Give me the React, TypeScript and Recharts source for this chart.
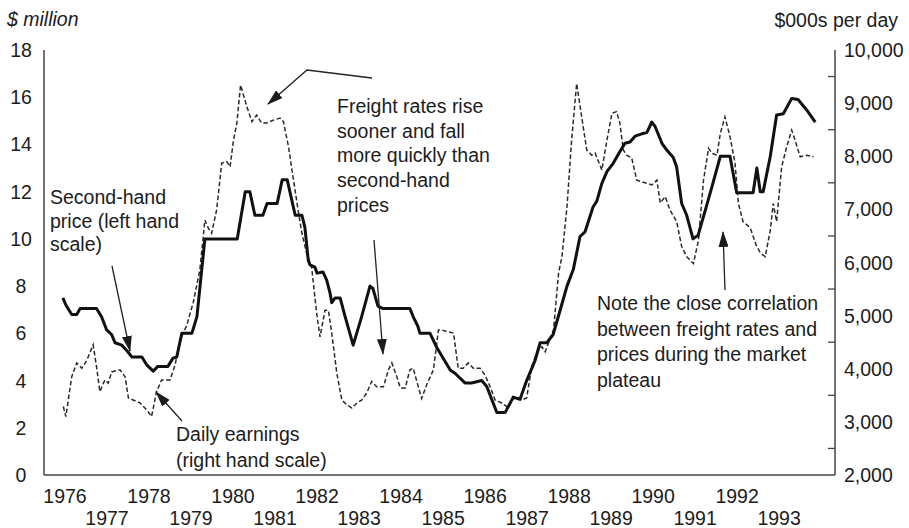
import React from "react";
import { LineChart, Line, XAxis, YAxis } from "recharts";

// second-hand price, $ million (left scale)
const priceYears = [
  1975.95, 1976.02, 1976.16, 1976.28, 1976.36, 1976.75, 1976.87, 1976.99, 1977.11, 1977.19,
  1977.35, 1977.48, 1977.59, 1977.83, 1977.95, 1978.1, 1978.21, 1978.45, 1978.57, 1978.66,
  1978.78, 1979.02, 1979.14, 1979.33, 1980.1, 1980.29, 1980.4, 1980.52, 1980.71, 1980.81,
  1981.05, 1981.17, 1981.29, 1981.48, 1981.64, 1981.71, 1981.79, 1981.83, 1981.95, 1982.0,
  1982.14, 1982.23, 1982.31, 1982.35, 1982.43, 1982.55, 1982.67, 1982.86, 1983.06, 1983.26,
  1983.33, 1983.45, 1983.57, 1984.21, 1984.29, 1984.4, 1984.45, 1984.69, 1984.85, 1985.17,
  1985.29, 1985.52, 1985.68, 1985.92, 1986.04, 1986.16, 1986.28, 1986.48, 1986.67, 1986.83,
  1986.99, 1987.19, 1987.31, 1987.47, 1987.62, 1987.79, 1987.95, 1988.1, 1988.26, 1988.38,
  1988.57, 1988.66, 1988.78, 1988.9, 1989.05, 1989.21, 1989.33, 1989.45, 1989.57, 1989.73,
  1989.85, 1989.97, 1990.05, 1990.21, 1990.33, 1990.48, 1990.56, 1990.68, 1990.8, 1990.95,
  1991.07, 1991.24, 1991.4, 1991.6, 1991.83, 1991.99, 1992.38, 1992.47, 1992.55, 1992.62,
  1992.79, 1992.94, 1993.1, 1993.3, 1993.45, 1993.66, 1993.86,
];
const priceValues = [
  7.5, 7.2, 6.8, 6.8, 7.05, 7.05, 6.7, 6.15, 5.95, 5.6,
  5.5, 5.25, 5.0, 5.0, 4.65, 4.4, 4.6, 4.6, 4.95, 5.0,
  6.0, 6.0, 6.7, 10.0, 10.0, 12.0, 12.0, 11.0, 11.0, 11.5,
  11.5, 12.5, 12.5, 11.0, 11.0, 10.5, 9.1, 8.9, 8.8, 8.55,
  8.6, 8.25, 7.7, 7.3, 7.5, 7.5, 6.7, 5.5, 6.7, 8.0,
  7.9, 7.15, 7.05, 7.05, 6.7, 6.3, 6.0, 6.0, 5.4, 4.45,
  4.3, 3.9, 3.9, 4.0, 3.75, 3.2, 2.65, 2.65, 3.3, 3.2,
  4.0, 4.85, 5.6, 5.6, 5.95, 7.0, 8.0, 8.7, 10.1, 10.3,
  11.35, 11.6, 12.35, 12.85, 13.2, 13.7, 14.05, 14.1, 14.35, 14.45,
  14.5, 14.95, 14.75, 14.05, 13.75, 13.45, 13.05, 11.5, 11.0, 10.0,
  10.15, 11.2, 12.2, 13.5, 13.5, 11.95, 11.95, 13.0, 12.0, 12.0,
  13.5, 15.25, 15.3, 15.95, 15.9, 15.45, 14.95,
];

// daily earnings, $ per day (right scale)
const earningsYears = [
  1975.96, 1976.02, 1976.16, 1976.28, 1976.4, 1976.52, 1976.67, 1976.75, 1976.83, 1976.95,
  1977.03, 1977.11, 1977.31, 1977.43, 1977.51, 1977.79, 1977.95, 1978.06, 1978.18, 1978.3,
  1978.5, 1978.62, 1978.74, 1978.9, 1979.05, 1979.21, 1979.33, 1979.41, 1979.49, 1979.61,
  1979.73, 1979.85, 1979.93, 1980.01, 1980.09, 1980.18, 1980.33, 1980.45, 1980.56, 1980.68,
  1980.8, 1980.96, 1981.12, 1981.2, 1981.32, 1981.44, 1981.56, 1981.64, 1981.75, 1981.87,
  1981.99, 1982.07, 1982.19, 1982.27, 1982.35, 1982.47, 1982.59, 1982.71, 1982.83, 1982.95,
  1983.06, 1983.18, 1983.3, 1983.42, 1983.58, 1983.7, 1983.78, 1983.9, 1983.98, 1984.1,
  1984.21, 1984.29, 1984.41, 1984.49, 1984.61, 1984.77, 1984.89, 1984.97, 1985.09, 1985.25,
  1985.36, 1985.48, 1985.6, 1985.72, 1985.88, 1986.0, 1986.12, 1986.24, 1986.4, 1986.56,
  1986.64, 1986.75, 1986.87, 1986.99, 1987.11, 1987.23, 1987.35, 1987.43, 1987.55, 1987.63,
  1987.75, 1987.83, 1987.95, 1988.06, 1988.18, 1988.3, 1988.42, 1988.54, 1988.62, 1988.78,
  1988.9, 1989.02, 1989.13, 1989.21, 1989.29, 1989.37, 1989.49, 1989.61, 1989.81, 1989.97,
  1990.09, 1990.17, 1990.29, 1990.4, 1990.56, 1990.68, 1990.8, 1990.96, 1991.08, 1991.2,
  1991.32, 1991.4, 1991.52, 1991.6, 1991.71, 1991.83, 1991.95, 1992.03, 1992.14, 1992.29,
  1992.33, 1992.45, 1992.56, 1992.67, 1992.79, 1992.86, 1992.94, 1993.06, 1993.18, 1993.3,
  1993.38, 1993.5, 1993.66, 1993.82,
];
const earningsValues = [
  3290, 3100, 3850, 4110, 4010, 4160, 4450, 4040, 3570, 3790,
  3730, 3940, 3980, 3850, 3450, 3355, 3220, 3100, 3570, 3790,
  3790, 4070, 4540, 4820, 5240, 5860, 6800, 6650, 6550, 6990,
  7870, 7900, 7800, 8300, 8620, 9340, 8930, 8650, 8775, 8625,
  8625, 8680, 8720, 8650, 8180, 7550, 6930, 6550, 6180, 5920,
  5050, 4600, 5100, 5100, 4670, 3920, 3410, 3320, 3260, 3355,
  3410, 3540, 3760, 3660, 3660, 3980, 4110, 3850, 3640, 3640,
  3980, 4010, 3660, 3440, 3700, 3980, 4730, 4730, 4700, 4670,
  4010, 4010, 4110, 4010, 4010, 3880, 3660, 3410, 3355, 3260,
  3410, 3470, 3410, 3450, 4040, 4300, 4415, 4320, 4570, 4730,
  5800, 6110, 7050, 8300, 9370, 8740, 8120, 8020, 8060, 7740,
  8300, 8810, 8840, 8625, 8120, 8020, 7970, 7550, 7500, 7460,
  7550, 7120, 7240, 6990, 6770, 6300, 6110, 5980, 6420, 7550,
  8150, 8055, 8020, 8430, 8740, 8370, 7870, 7110, 6770, 6670,
  6610, 6330, 6170, 6110, 6610, 7110, 6770, 7800, 8180, 8490,
  8300, 7990, 8020, 7990,
];

const yearTicks = [
  1976, 1977, 1978, 1979, 1980, 1981, 1982, 1983, 1984, 1985,
  1986, 1987, 1988, 1989, 1990, 1991, 1992, 1993,
];
const leftTicks = [0, 2, 4, 6, 8, 10, 12, 14, 16, 18];
const rightTicks = [
  2000, 2500, 3000, 3500, 4000, 4500, 5000, 5500, 6000,
  6500, 7000, 7500, 8000, 8500, 9000, 9500, 10000,
];

const priceData = priceYears.map((t, i) => ({ t, price: priceValues[i] }));
const earningsData = earningsYears.map((t, i) => ({ t, earnings: earningsValues[i] }));

const FONT = "'Liberation Sans', Arial, Helvetica, sans-serif";
const INK = "#1c1c1c";
const fs = 19.5;

const YearTick = (props: any) => {
  const { x, y, payload } = props;
  const even = payload.value % 2 === 0;
  return (
    <text x={x} y={y + (even ? 28 : 50)} textAnchor="middle" fontSize={fs} fill={INK} fontFamily={FONT}>
      {payload.value}
    </text>
  );
};

const LeftTick = (props: any) => {
  const { x, y, payload } = props;
  return (
    <text x={x - 23} y={y + 7} textAnchor="middle" fontSize={fs} fill={INK} fontFamily={FONT}>
      {payload.value}
    </text>
  );
};

const RightTick = (props: any) => {
  const { x, y, payload } = props;
  if (payload.value % 1000 !== 0) {
    return <line x1={x} x2={x - 7} y1={y} y2={y} stroke="#444" strokeWidth={1.3} />;
  }
  return (
    <text x={x + 9} y={y + 7} textAnchor="start" fontSize={fs} fill={INK} fontFamily={FONT}>
      {payload.value.toLocaleString("en-US")}
    </text>
  );
};

const Notes = () => (
  <svg
    width={909}
    height={528}
    style={{ position: "absolute", left: 0, top: 0, pointerEvents: "none" }}
    fontFamily={FONT}
    fontSize={fs}
    fill={INK}
  >
    <defs>
      <marker id="head" markerUnits="userSpaceOnUse" markerWidth={16} markerHeight={10} refX={15} refY={5} orient="auto">
        <path d="M0,0 L16,5 L0,10 Z" fill="#1c1c1c" />
      </marker>
    </defs>
    <text x={7} y={26} fontStyle="italic">$ million</text>
    <text x={898} y={27} textAnchor="end">$000s per day</text>

    <text x={50} y={204}>Second-hand</text>
    <text x={50} y={228}>price (left hand</text>
    <text x={50} y={251}>scale)</text>
    <line x1={112} y1={266} x2={130} y2={351} stroke="#222" strokeWidth={1.3} markerEnd="url(#head)" />

    <text x={176} y={441}>Daily earnings</text>
    <text x={176} y={467}>(right hand scale)</text>
    <line x1={182} y1={421} x2={156} y2={392} stroke="#222" strokeWidth={1.3} markerEnd="url(#head)" />

    <text x={337} y={113}>Freight rates rise</text>
    <text x={337} y={138}>sooner and fall</text>
    <text x={337} y={162}>more quickly than</text>
    <text x={337} y={187}>second-hand</text>
    <text x={337} y={212}>prices</text>
    <polyline points="372,78 307,70 268,104" fill="none" stroke="#222" strokeWidth={1.3} markerEnd="url(#head)" />
    <line x1={374} y1={240} x2={383} y2={354} stroke="#222" strokeWidth={1.3} markerEnd="url(#head)" />

    <text x={597} y={310}>Note the close correlation</text>
    <text x={597} y={336}>between freight rates and</text>
    <text x={597} y={361}>prices during the market</text>
    <text x={597} y={387}>plateau</text>
    <line x1={725} y1={290} x2={723} y2={232} stroke="#222" strokeWidth={1.3} markerEnd="url(#head)" />
  </svg>
);

export default function App() {
  return (
    <div style={{ position: "absolute", left: 0, top: 0, width: 909, height: 528, background: "#fff" }}>
      <LineChart width={909} height={528} margin={{ top: 50, right: 0, bottom: 0, left: 0 }}>
        <XAxis
          dataKey="t"
          type="number"
          domain={[1975.5, 1994.33]}
          ticks={yearTicks}
          allowDataOverflow
          height={53}
          tickSize={0}
          tickMargin={0}
          tickLine={false}
          axisLine={{ stroke: "#444", strokeWidth: 1.5 }}
          tick={<YearTick />}
          interval={0}
        />
        <YAxis
          yAxisId="left"
          orientation="left"
          domain={[0, 18]}
          ticks={leftTicks}
          width={44}
          tickSize={0}
          tickMargin={0}
          tickLine={false}
          axisLine={{ stroke: "#444", strokeWidth: 1.5 }}
          tick={<LeftTick />}
          interval={0}
        />
        <YAxis
          yAxisId="right"
          orientation="right"
          domain={[2000, 10000]}
          ticks={rightTicks}
          width={74}
          tickSize={0}
          tickMargin={0}
          tickLine={false}
          axisLine={{ stroke: "#444", strokeWidth: 1.5 }}
          tick={<RightTick />}
          interval={0}
        />
        <Line
          yAxisId="right"
          data={earningsData}
          dataKey="earnings"
          type="linear"
          stroke="#2a2a2a"
          strokeWidth={1.5}
          strokeDasharray="4.5 2.5"
          dot={false}
          isAnimationActive={false}
        />
        <Line
          yAxisId="left"
          data={priceData}
          dataKey="price"
          type="linear"
          stroke="#111"
          strokeWidth={3}
          strokeLinejoin="round"
          dot={false}
          isAnimationActive={false}
        />
      </LineChart>
      <Notes />
    </div>
  );
}
